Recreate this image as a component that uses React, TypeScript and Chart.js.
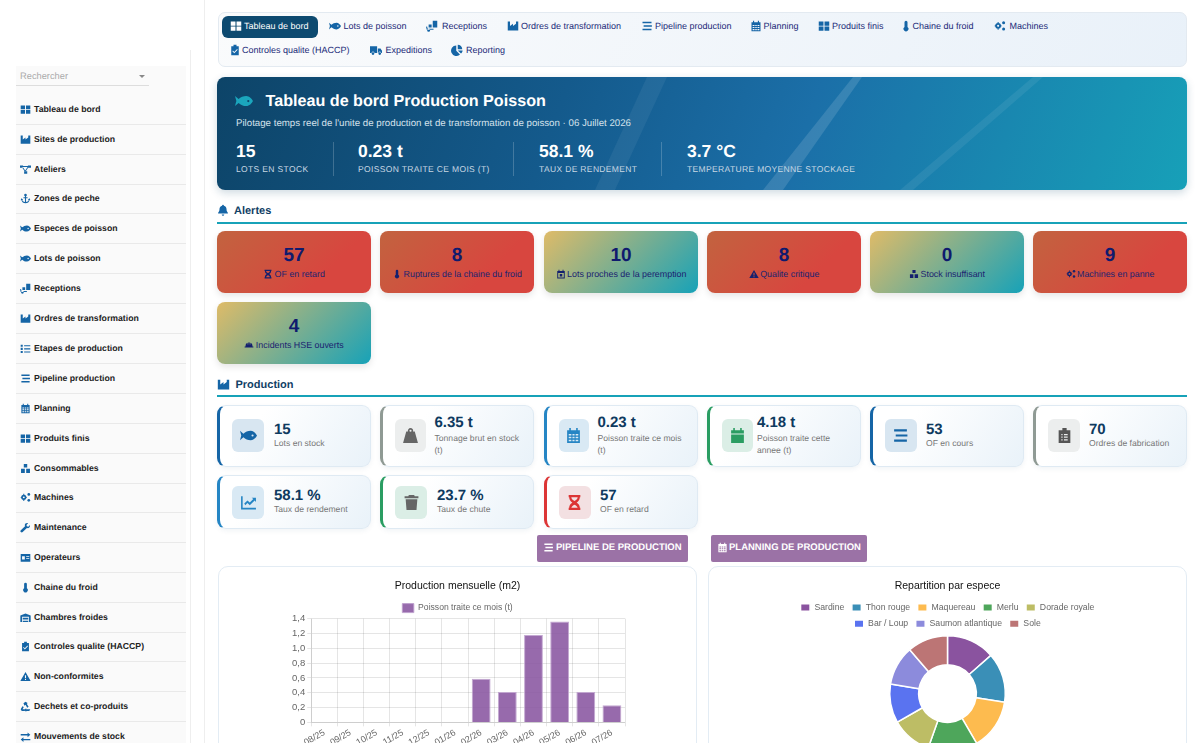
import { useEffect, useRef } from "react";
import type { CSSProperties, ReactNode } from "react";
import { Chart, registerables } from "chart.js";
import type { Plugin } from "chart.js";

Chart.register(...registerables);

// chart values
const months = ["08/25", "09/25", "10/25", "11/25", "12/25", "01/26", "02/26", "03/26", "04/26", "05/26", "06/26", "07/26"];
const treated = [0, 0, 0, 0, 0, 0, 0.59, 0.41, 1.18, 1.36, 0.41, 0.23];
const species = ["Sardine", "Thon rouge", "Maquereau", "Merlu", "Dorade royale", "Bar / Loup", "Saumon atlantique", "Sole"];
const speciesValues = [0.86, 0.88, 0.9, 0.88, 0.72, 0.69, 0.7, 0.72];
const speciesColors = ["#8a539f", "#3a8fb7", "#fdbb4f", "#4ea65b", "#bdbd65", "#5a73f0", "#8c8bdc", "#bc7575"];

const sideItems: [string, string][] = [
  ["Tableau de bord", "grid"], ["Sites de production", "industry"], ["Ateliers", "network"], ["Zones de peche", "anchor"],
  ["Especes de poisson", "fish"], ["Lots de poisson", "fish"], ["Receptions", "dolly"], ["Ordres de transformation", "industry"],
  ["Etapes de production", "tasks"], ["Pipeline production", "bars"], ["Planning", "calendar"], ["Produits finis", "grid"],
  ["Consommables", "boxes"], ["Machines", "cogs"], ["Maintenance", "wrench"], ["Operateurs", "idcard"],
  ["Chaine du froid", "thermo"], ["Chambres froides", "warehouse"], ["Controles qualite (HACCP)", "clipcheck"],
  ["Non-conformites", "warn"], ["Dechets et co-produits", "recycle"], ["Mouvements de stock", "arrows"],
];
const sideY = [109, 139, 169, 198, 228, 258, 288, 318, 348, 378, 408, 438, 468, 497, 527, 557, 587, 617, 646, 676, 706, 736];

const navItems: [string, string, number, number, number][] = [
  ["Lots de poisson", "fish", 328.5, 343.5, 25.5], ["Receptions", "dolly", 426, 442, 25.5], ["Ordres de transformation", "industry", 507, 521, 25.5],
  ["Pipeline production", "bars", 641, 655, 25.5], ["Planning", "calendar", 750, 763.5, 25.5], ["Produits finis", "grid", 818, 832, 25.5],
  ["Chaine du froid", "thermo", 900, 912.5, 25.5], ["Machines", "cogs", 994, 1009.5, 25.5],
  ["Controles qualite (HACCP)", "clipcheck", 229, 242, 49.5], ["Expeditions", "truck", 369.5, 385.5, 49.5], ["Reporting", "pie", 451, 466, 49.5],
];

const heroStats: [string, string, number][] = [
  ["15", "LOTS EN STOCK", 236], ["0.23 t", "POISSON TRAITE CE MOIS (T)", 358],
  ["58.1 %", "TAUX DE RENDEMENT", 539], ["3.7 °C", "TEMPERATURE MOYENNE STOCKAGE", 687],
];

const RED = "linear-gradient(135deg, #c2633f, #d8463f 70%)";
const TEAL = "linear-gradient(135deg, #dfbb68, #17a2b8)";
const alerts: [string, string, string, string, number, number][] = [
  ["57", "OF en retard", "hourglass", RED, 217, 231],
  ["8", "Ruptures de la chaine du froid", "thermo", RED, 380, 231],
  ["10", "Lots proches de la peremption", "calx", TEAL, 544, 231],
  ["8", "Qualite critique", "warn", RED, 707, 231],
  ["0", "Stock insuffisant", "boxes", TEAL, 870, 231],
  ["9", "Machines en panne", "cogs", RED, 1033, 231],
  ["4", "Incidents HSE ouverts", "helmet", TEAL, 217, 302],
];

type Kpi = { v: string; l: string; i: string; c: string; bg: string; ic: string; x: number; row: number; tx: number; ix: number; w: number };
const kpis: Kpi[] = [
  { v: "15", l: "Lots en stock", i: "fish", c: "#1565a6", bg: "#d8e6f1", ic: "#1565a6", x: 217, row: 0, tx: 274, ix: 232, w: 32 },
  { v: "6.35 t", l: "Tonnage brut en stock (t)", i: "weight", c: "#8f9a94", bg: "#eceeee", ic: "#666", x: 380, row: 0, tx: 434.5, ix: 395, w: 31 },
  { v: "0.23 t", l: "Poisson traite ce mois (t)", i: "calendar", c: "#2585c4", bg: "#d9e9f4", ic: "#2585c4", x: 543.5, row: 0, tx: 597.5, ix: 558.5, w: 30 },
  { v: "4.18 t", l: "Poisson traite cette annee (t)", i: "calfull", c: "#2a9d62", bg: "#dbeee6", ic: "#2a9d62", x: 706.5, row: 0, tx: 757, ix: 721.5, w: 31 },
  { v: "53", l: "OF en cours", i: "bars", c: "#1565a6", bg: "#d8e6f1", ic: "#1565a6", x: 869.5, row: 0, tx: 926, ix: 884.5, w: 32 },
  { v: "70", l: "Ordres de fabrication", i: "clipboard", c: "#8f9a94", bg: "#eceeee", ic: "#555", x: 1033, row: 0, tx: 1089, ix: 1048, w: 32 },
  { v: "58.1 %", l: "Taux de rendement", i: "chart", c: "#2585c4", bg: "#d9e9f4", ic: "#2585c4", x: 217, row: 1, tx: 274, ix: 232, w: 32 },
  { v: "23.7 %", l: "Taux de chute", i: "trash", c: "#2a9d62", bg: "#dbeee6", ic: "#666", x: 380, row: 1, tx: 437, ix: 395, w: 32 },
  { v: "57", l: "OF en retard", i: "hourglass", c: "#dc3535", bg: "#f3e0e2", ic: "#dc3535", x: 543.5, row: 1, tx: 600, ix: 558.5, w: 32 },
];

const shapes: Record<string, ReactNode> = {
  grid: <path d="M1 2h6.3v5.5H1zM8.7 2H15v5.5H8.7zM1 8.8h6.3v5.5H1zM8.7 8.8H15v5.5H8.7z" />,
  fish: <path d="M0 3.5l3.2 2.8C5 4.600 7.400 3.500 10 3.500c2.800 0 5 2.500 6 4.500-1 2-3.200 4.500-6 4.500-2.600 0-5-1.100-6.800-2.800L0 12.500l1.200-4.500zM11.800 7a1 1 0 100 2 1 1 0 000-2z" fillRule="evenodd" />,
  industry: <path d="M1 2h3v6l4-3v3l4-3V2h3v12H1z" />,
  network: <path d="M0 2h4.500v3.500H0zM11.500 2H16v3.500h-4.500zM6 10.500h4.500V14H6zM4 3h8v1.200H4zM3 5l3.800 5.600 1-.7L4 4.400zM12 5l-3.600 5.500-1-.7L11 4.400z" />,
  anchor: <path d="M8 1a2 2 0 00-.8 3.800V6H5v1.600h2.200v5.500C5 12.800 3.700 11.400 3.300 10l1.200-.6L2 7.800 1 10.500l1-.4C2.600 12.800 5 15 8 15s5.400-2.200 6-4.900l1 .4-1-2.700-2.500 1.600 1.200.6c-.4 1.400-1.700 2.800-3.900 3.100V7.600H11V6H8.800V4.800A2 2 0 008 1z" />,
  dolly: <path d="M9 1h6v9H9zM3.500 6h4v4h-4zM0 9l1 4h9v-1.500H2.200L1.500 8.700zM3.500 11.500a2 2 0 110 4 2 2 0 010-4z" />,
  tasks: <path d="M1 2.500h3v3H1zM6 3.200h9v1.500H6zM1 7h3v3H1zM6 7.800h9v1.500H6zM1 11.500h3v3H1zM6 12.300h9v1.500H6z" />,
  bars: <path d="M2 2.200h12v2H2zM3.500 7h11v2h-11zM2 11.800h12v2H2z" />,
  calendar: <path d="M4 1h1.500v2h5V1H12v2h2v12H2V3h2zM3.500 6.500V8H6V6.500zM7 6.500V8h2V6.500zM10 6.500V8h2.500V6.500zM3.500 9.200v1.500H6V9.200zM7 9.200v1.500h2V9.200zM10 9.200v1.500h2.500V9.200zM3.500 12v1.500H6V12zM7 12v1.500h2V12zM10 12v1.500h2.500V12z" fillRule="evenodd" />,
  calfull: <path d="M4 1h1.500v2h5V1H12v2h2v3H2V3h2zM2 7h12v8H2z" />,
  calx: <path d="M4 1h1.500v2h5V1H12v2h2v12H2V3h2zM3.500 6.500v7h9v-7zM6 8h4v4H6z" fillRule="evenodd" />,
  boxes: <path d="M5.500 1.500h5v5h-5zM1.500 8.500H7v6H1.500zM9 8.500h5.500v6H9z" />,
  cogs: <><path d="M5.500 4a3.800 3.800 0 110 7.600 3.800 3.800 0 010-7.600zm0 2.400a1.400 1.400 0 100 2.800 1.400 1.400 0 000-2.800z" fillRule="evenodd" /><path d="M4.800 2.500h1.400v2H4.800zM4.800 11h1.400v2H4.800zM1 7.100h2v1.400H1zM8 7.100h2v1.400H8z" /><circle cx="12.800" cy="3.500" r="2" /><circle cx="12.800" cy="12" r="2" /></>,
  wrench: <path d="M14.500 4.500L12 6.800l-2-.6-.6-2 2.400-2.400C9.500.9 7.200 2 7 4.300c0 .7.100 1.200.3 1.700L1.200 12c-.8.8-.8 1.900 0 2.700s1.900.8 2.700 0L10 8.800c2.500.9 5.200-1 4.500-4.300z" />,
  idcard: <path d="M1 3h14v11H1zM3 6v5h4V6zM9 6.200v1.200h4.500V6.200zM9 9v1.200h4.500V9z" fillRule="evenodd" />,
  thermo: <path d="M6 3a2 2 0 014 0v6.200a3.300 3.300 0 11-4 0z" />,
  warehouse: <path d="M8 2l7.500 3v9.500H13V7H3v7.500H.5V5zM4 8.500h8V10H4zM4 11h8v1H4zM4 13h8v1.500H4z" />,
  clipcheck: <path d="M6 1h4v2h3v12H3V3h3zM5.300 8.800L7 10.500l3.800-3.800.8.800L7 12.200 4.500 9.600z" fillRule="evenodd" />,
  clipboard: <path d="M6 1h4v2h3.500v12h-11V3H6zM5 6.500v1.200h1.200V6.500zM7.500 6.500v1.200H11V6.500zM5 9v1.200h1.200V9zM7.500 9v1.200H11V9zM5 11.500v1.200h1.200v-1.200zM7.500 11.500v1.200H11v-1.200z" fillRule="evenodd" />,
  warn: <path d="M8 1.500l7.500 13H.5zM7.200 6v4.500h1.600V6zM7.200 11.500V13h1.600v-1.500z" fillRule="evenodd" />,
  recycle: <path d="M8 1l3 2-1 1.500 2.500 4-2 1.200-2.500-4.200L6.500 7 5 3.200zM1 12l2.500-4.500 2 1.200L3.800 12H7v2.500H2.500zM15 12l-1.500 2.500H9V16l-2.500-3L9 10v2z" />,
  arrows: <path d="M1 4.500h10V2l4 3.500L11 9V6.500H1zM15 11.500H5V9l-4 3.500L5 16v-2.500h10z" />,
  truck: <path d="M0 3h9.500v9H6a2 2 0 00-4 0H0zM10.500 6H14l2 3v3h-1a2 2 0 00-4 0h-.5zM4 11a1.800 1.800 0 110 3.600A1.800 1.800 0 014 11zM13 11a1.800 1.800 0 110 3.600 1.800 1.800 0 010-3.600z" />,
  pie: <path d="M7 2v7l5 5A7 7 0 117 2zM9 1a6 6 0 016 6H9zM9 8.500h6.500c-.2 1.700-1 3.100-2.200 4.100z" />,
  hourglass: <path d="M2.500 1h11v2H13c0 2.500-1.500 4-3 5 1.500 1 3 2.500 3 5h.5v2h-11v-2H3c0-2.500 1.500-4 3-5-1.500-1-3-2.500-3-5h-.5zM5 3c.1 1.500 1.500 2.800 3 3.500 1.500-.7 2.900-2 3-3.500zM5 13h6c-.3-1.400-1.700-2.500-3-3-1.300.5-2.700 1.600-3 3z" fillRule="evenodd" />,
  helmet: <path d="M6.800 4h2.400v3h1V4.400c2 .7 3.300 2.400 3.300 4.600v1.500H15V12H1v-1.500h1.500V9c0-2.200 1.300-3.900 3.300-4.600V7h1z" />,
  bell: <path d="M8 1a1.200 1.200 0 011.200 1.300c2.300.5 3.500 2.300 3.500 4.700 0 3 1.300 3.800 1.800 4.500v1h-13v-1c.5-.7 1.800-1.500 1.800-4.500 0-2.400 1.200-4.200 3.500-4.700A1.200 1.200 0 018 1zM6.300 14h3.400a1.700 1.700 0 01-3.400 0z" />,
  weight: <path d="M8 1a2.500 2.500 0 012.400 3.200H12L15 15H1L4 4.200h1.600A2.500 2.500 0 018 1zm0 1.500a1 1 0 100 2 1 1 0 000-2z" fillRule="evenodd" />,
  chart: <path d="M1 2h1.500v11H15v1.500H1zM4 9l3-3 2.200 2 3.300-3.300L11 3.500h4v4L13.800 6l-4.600 4.500L7 8.500l-2 2z" />,
  trash: <path d="M5.500 1h5l.5 1.200h3.500V4h-13V2.200H5zM2.500 5h11l-.8 10H3.300z" />,
};

function Icon({ name, x, y, size, color }: { name: string; x: number; y: number; size: number; color: string }) {
  return (
    <svg viewBox="0 0 16 16" width={size} height={size} fill={color} style={{ position: "absolute", left: x, top: y - size / 2 }}>
      {shapes[name]}
    </svg>
  );
}

function Txt({ x, y, size, color, weight, spacing, children }: { x: number; y: number; size: number; color: string; weight?: number; spacing?: number; children: ReactNode }) {
  const s: CSSProperties = { position: "absolute", left: x, top: y + 0.5 - size, lineHeight: `${size * 2}px`, fontSize: size, color, fontWeight: weight ?? 400, letterSpacing: spacing, whiteSpace: "nowrap" };
  return <div style={s}>{children}</div>;
}

function box(x: number, y: number, w: number, h: number, extra: CSSProperties): CSSProperties {
  return { position: "absolute", left: x, top: y, width: w, height: h, boxSizing: "border-box", ...extra };
}

// legend box takes less room below its rows
function tightLegend(px: number): Plugin {
  return {
    id: "tightLegend",
    beforeInit(chart) {
      const legend = chart.legend as any;
      const fit = legend.fit;
      legend.fit = function () {
        fit.call(this);
        this.height -= px;
      };
    },
  };
}

function ProductionChart() {
  const ref = useRef<HTMLCanvasElement | null>(null);
  useEffect(() => {
    const chart = new Chart(ref.current!, {
      type: "bar",
      data: {
        labels: months,
        datasets: [{ label: "Poisson traite ce mois (t)", data: treated, backgroundColor: "rgba(137,85,160,0.88)", borderColor: "rgba(190,160,205,0.9)", borderWidth: 1 }],
      },
      options: {
        responsive: false,
        animation: false,
        locale: "fr-FR",
        layout: { padding: { left: 1, right: 1, top: 5 } },
        plugins: {
          title: { display: true, text: "Production mensuelle (m2)", color: "#111", font: { family: "Liberation Sans", size: 10.5, weight: "normal" }, padding: { top: 0, bottom: 8 } },
          legend: { labels: { boxWidth: 11.5, boxHeight: 9, padding: 3, color: "#666", font: { family: "Liberation Sans", size: 8.6 } } },
          tooltip: { enabled: false },
        },
        scales: {
          x: { grid: { tickLength: 4 }, ticks: { color: "#666", autoSkip: false, minRotation: 30, maxRotation: 30, padding: 1, font: { family: "Liberation Sans", size: 9 } } },
          y: { min: 0, max: 1.4, grid: { tickLength: 4 }, ticks: { stepSize: 0.2, color: "#666", padding: 2, font: { family: "Liberation Sans", size: 9.5 } } },
        },
      },
      plugins: [tightLegend(4)],
    });
    return () => chart.destroy();
  }, []);
  return <canvas ref={ref} width={337} height={174} style={{ position: "absolute", left: 289, top: 575 }} />;
}

function SpeciesChart() {
  const ref = useRef<HTMLCanvasElement | null>(null);
  useEffect(() => {
    const chart = new Chart(ref.current!, {
      type: "doughnut",
      data: {
        labels: species,
        datasets: [{ data: speciesValues, backgroundColor: speciesColors, borderColor: "#fff", borderWidth: 1.5 }],
      },
      options: {
        responsive: false,
        animation: false,
        cutout: "50%",
        layout: { padding: { top: 5 } },
        plugins: {
          title: { display: true, text: "Repartition par espece", color: "#111", font: { family: "Liberation Sans", size: 10.5, weight: "normal" }, padding: { top: 0, bottom: 3 } },
          legend: { labels: { boxWidth: 9.5, boxHeight: 7.5, padding: 7.5, color: "#666", font: { family: "Liberation Sans", size: 8.7 } } },
          tooltip: { enabled: false },
        },
      },
      plugins: [tightLegend(3)],
    });
    return () => chart.destroy();
  }, []);
  return <canvas ref={ref} width={337} height={177} style={{ position: "absolute", left: 778.5, top: 575 }} />;
}

export default function App() {
  useEffect(() => {
    document.body.style.margin = "0";
    document.body.style.overflow = "hidden";
  }, []);
  return (
    <div style={{ position: "relative", width: 1200, height: 743, overflow: "hidden", background: "#fff", fontFamily: "'Liberation Sans', Arial, sans-serif", textRendering: "geometricPrecision" }}>
      {/* sidebar */}
      <div style={box(190, 50, 1, 693, { background: "#eeeeee" })} />
      <div style={box(203.5, 0, 1, 743, { background: "#eeeeee" })} />
      <div style={box(16, 66, 170, 677, { background: "#fafafa" })} />
      <div style={box(16, 66, 133, 19.5, { borderBottom: "1px solid #ddd" })} />
      <Txt x={20} y={75.5} size={9.3} color="#aaa">Rechercher</Txt>
      <div style={{ position: "absolute", left: 139, top: 74.5, borderLeft: "3px solid transparent", borderRight: "3px solid transparent", borderTop: "3.5px solid #888" }} />
      {sideItems.map(([label, icon], i) => (
        <div key={label}>
          <Icon name={icon} x={19.5} y={sideY[i]} size={11} color="#1565a6" />
          <Txt x={34} y={sideY[i]} size={8.7} color="#222" weight={700}>{label}</Txt>
          {i < sideItems.length - 1 && <div style={box(16, (sideY[i] + sideY[i + 1]) / 2, 170, 1, { background: "#e9e9e9" })} />}
        </div>
      ))}

      {/* navigation */}
      <div style={box(218, 12, 969, 54.5, { borderRadius: 7, border: "1px solid #e3eaf1", background: "linear-gradient(120deg, #fafbfc, #e9f1f9)" })} />
      <div style={box(222, 16, 95.5, 22, { borderRadius: 6, background: "#0d4a70" })} />
      <Icon name="grid" x={229.5} y={26} size={12} color="#fff" />
      <Txt x={244} y={25.5} size={9} color="#fff">Tableau de bord</Txt>
      {navItems.map(([label, icon, ix, tx, y]) => (
        <div key={label}>
          <Icon name={icon} x={ix} y={y + 0.5} size={12} color="#1565a6" />
          <Txt x={tx} y={y} size={9} color="#1b2a78">{label}</Txt>
        </div>
      ))}

      {/* hero */}
      <div style={box(217, 77, 970, 113, { borderRadius: 8, overflow: "hidden", background: "linear-gradient(110deg, #0d4468 0%, #145a8c 35%, #1b6fa8 60%, #17a0b8 100%)", boxShadow: "0 3px 8px rgba(13,68,104,0.2)" })}>
        <svg width={970} height={113} style={{ position: "absolute", left: 0, top: 0 }}>
          <polygon points="430,0 450,0 398,113 378,113" fill="rgba(255,255,255,0.06)" />
          <polygon points="636,0 645,0 566,113 546,113" fill="rgba(255,255,255,0.13)" />
          <polygon points="816,0 826,0 696,113 683,113" fill="rgba(255,255,255,0.07)" />
        </svg>
      </div>
      <Icon name="fish" x={235} y={100.5} size={18} color="#1ba6bd" />
      <Txt x={265.5} y={101} size={16.15} color="#fff" weight={700}>Tableau de bord Production Poisson</Txt>
      <Txt x={236} y={123} size={9.7} color="#d5e2ec">Pilotage temps reel de l'unite de production et de transformation de poisson · 06 Juillet 2026</Txt>
      {heroStats.map(([v, l, x]) => (
        <div key={l}>
          <Txt x={x} y={151} size={17.5} color="#fff" weight={700}>{v}</Txt>
          <Txt x={x} y={169} size={8.5} color="#c9d8e4" spacing={0.35}>{l}</Txt>
        </div>
      ))}
      {[333, 513, 661].map((x) => <div key={x} style={box(x, 142, 1, 34, { background: "rgba(255,255,255,0.2)" })} />)}

      {/* alerts */}
      <Icon name="bell" x={217} y={210} size={12} color="#1565a6" />
      <Txt x={234} y={210.5} size={11} color="#123f66" weight={700}>Alertes</Txt>
      <div style={box(217, 222, 970, 1.5, { background: "#17a2b8" })} />
      {alerts.map(([n, l, icon, bg, x, y]) => (
        <div key={l} style={box(x, y, 154, 62, { borderRadius: 8, background: bg, boxShadow: "0 3px 7px rgba(0,0,0,0.1)", color: "#0f1a6e", textAlign: "center" })}>
          <div style={{ position: "absolute", left: 0, right: 0, top: 12.5, fontSize: 19, lineHeight: "24px", fontWeight: 700 }}>{n}</div>
          <div style={{ position: "absolute", left: 0, right: 0, top: 36, fontSize: 8.9, lineHeight: "14px", whiteSpace: "nowrap", color: "#1b2370" }}>
            <svg viewBox="0 0 16 16" width={10} height={10} fill="#14206e" style={{ verticalAlign: -1.5, marginRight: 1.5 }}>{shapes[icon]}</svg>
            {l}
          </div>
        </div>
      ))}

      {/* production */}
      <Icon name="industry" x={217} y={384} size={13} color="#1565a6" />
      <Txt x={235.5} y={384} size={11} color="#123f66" weight={700}>Production</Txt>
      <div style={box(217, 395, 970, 1.5, { background: "#17a2b8" })} />
      {kpis.map((k) => {
        const top = k.row === 0 ? 405 : 475;
        const h = k.row === 0 ? 61.5 : 54;
        const wraps = k.row === 0 && k.l.endsWith("(t)");
        const mid = top + h / 2;
        const iy = k.row === 0 ? 419 : 486;
        return (
          <div key={k.l}>
            <div style={box(k.x, top, 154, h, { borderRadius: 9, border: "1px solid #dfeaf3", borderLeft: `3px solid ${k.c}`, background: "linear-gradient(125deg, #fff 25%, #e9f2f9)", boxShadow: "0 2px 5px rgba(20,60,100,0.06)" })} />
            <div style={box(k.ix, iy, k.w, 33, { borderRadius: 6, background: k.bg })} />
            <Icon name={k.i} x={k.ix + k.w / 2 - 8.5} y={iy + 16.5} size={17} color={k.ic} />
            <Txt x={k.tx} y={wraps ? 422 : mid - 6.5} size={15} color="#0e3a5f" weight={700}>{k.v}</Txt>
            {wraps ? (
              <div style={{ position: "absolute", left: k.tx, top: 432, width: 92, fontSize: 8.6, lineHeight: "12.2px", color: "#777" }}>{k.l}</div>
            ) : (
              <Txt x={k.tx} y={mid + 7.5} size={8.6} color="#777">{k.l}</Txt>
            )}
          </div>
        );
      })}

      {/* buttons */}
      <div style={box(537, 535, 151, 26.5, { borderRadius: 2, background: "#9b72a6" })} />
      <Icon name="bars" x={543} y={547.5} size={11} color="#fff" />
      <Txt x={556} y={547} size={9.5} color="#fff" weight={700}>PIPELINE DE PRODUCTION</Txt>
      <div style={box(711, 535, 156, 26.5, { borderRadius: 2, background: "#9b72a6" })} />
      <Icon name="calendar" x={717} y={547.5} size={11} color="#fff" />
      <Txt x={729} y={547} size={9.5} color="#fff" weight={700}>PLANNING DE PRODUCTION</Txt>

      {/* charts */}
      <div style={box(218, 566, 479, 220, { borderRadius: 10, border: "1px solid #e3ecf4", background: "#fff" })} />
      <div style={box(708, 566, 479, 220, { borderRadius: 10, border: "1px solid #e3ecf4", background: "#fff" })} />
      <ProductionChart />
      <SpeciesChart />
    </div>
  );
}
